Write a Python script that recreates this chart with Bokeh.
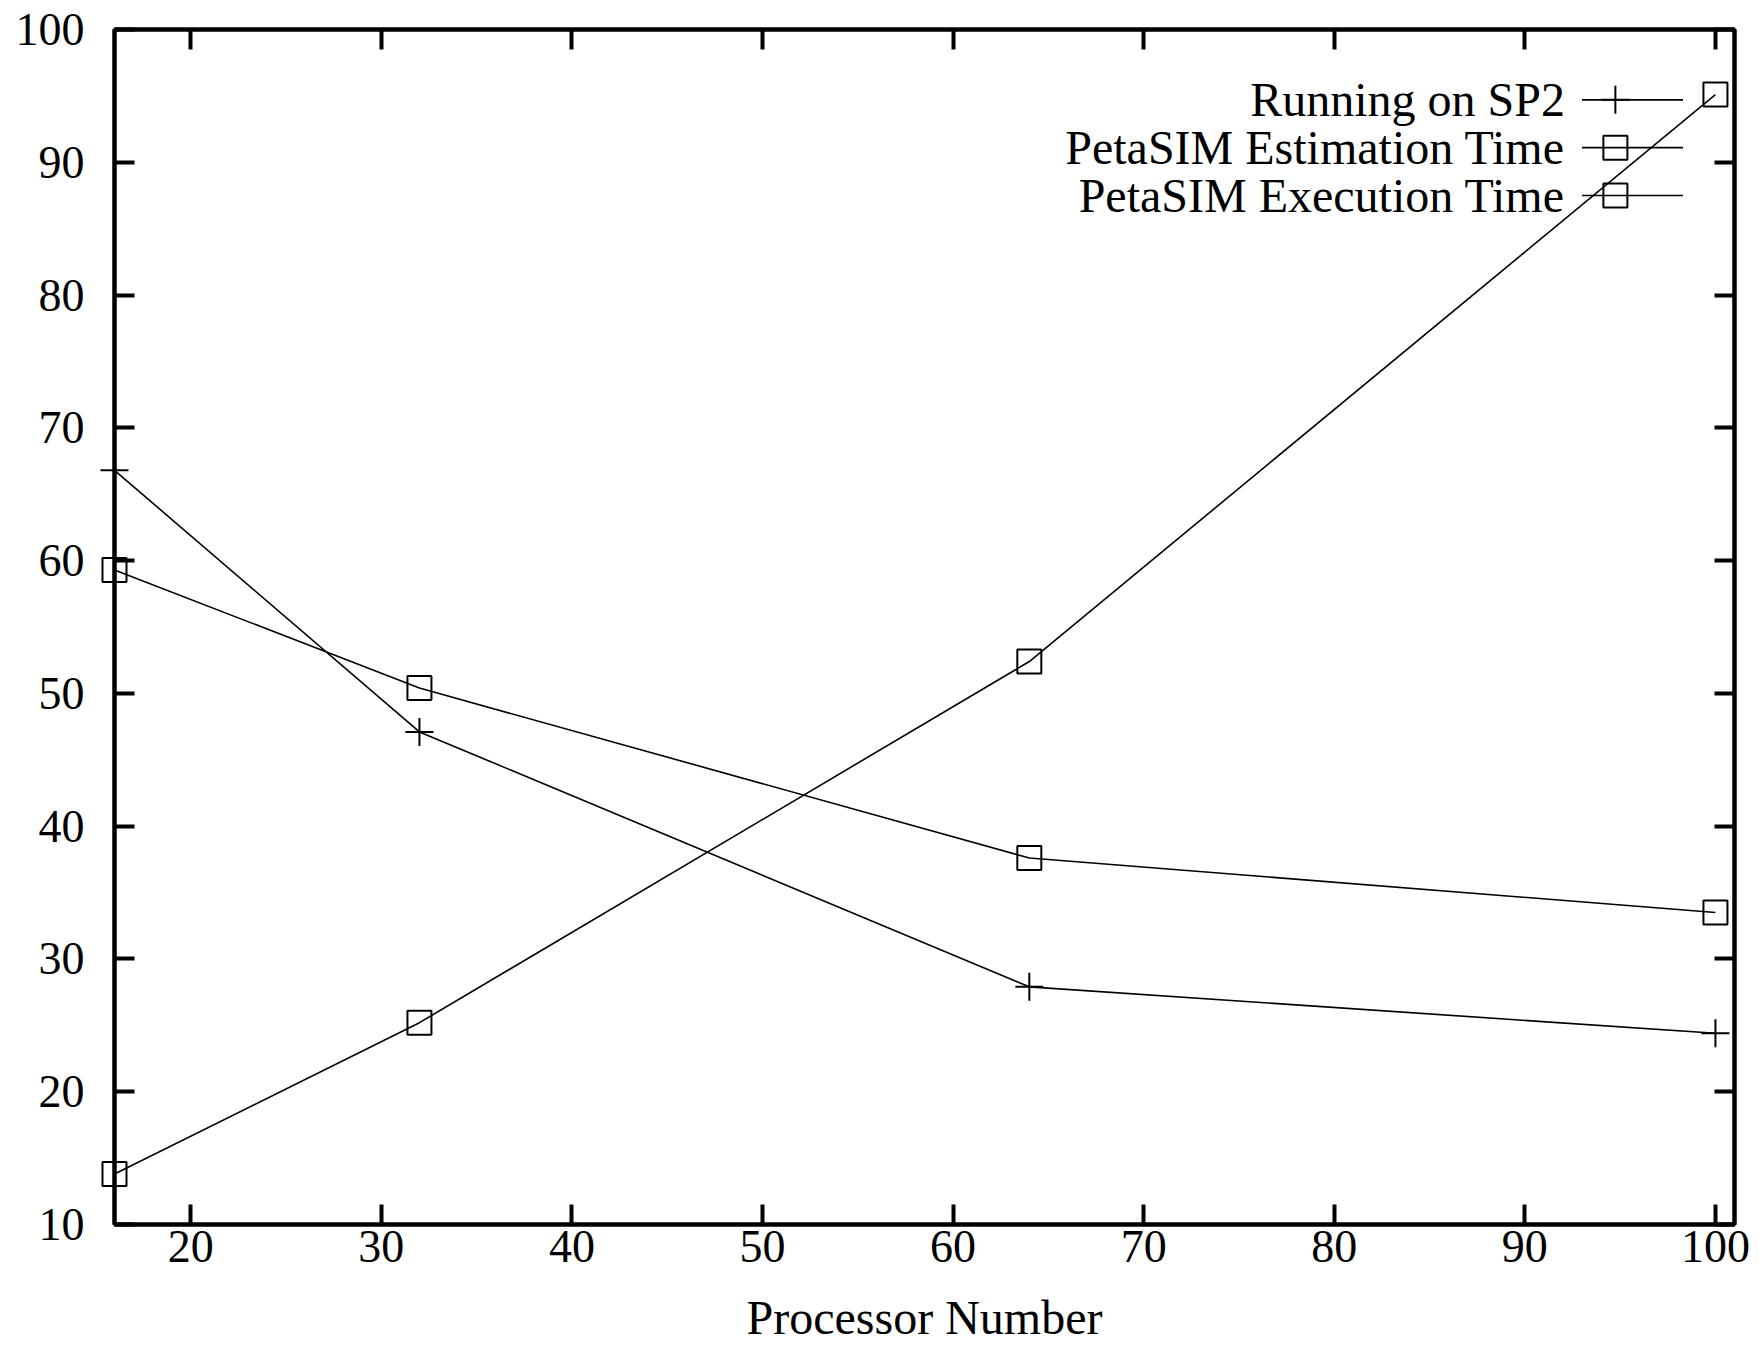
from bokeh.plotting import figure
from bokeh.models import Range1d, LinearAxis, SingleIntervalTicker, Label, CustomJSTickFormatter
from bokeh.embed import file_html
from bokeh.resources import INLINE

# Data
processors = [16, 32, 64, 100]
sp2_running = [66.8, 47.1, 27.9, 24.4]
petasim_estimation = [59.3, 50.4, 37.6, 33.5]
petasim_execution = [13.8, 25.2, 52.4, 95.1]
series_names = ["Running on SP2", "PetaSIM Estimation Time", "PetaSIM Execution Time"]
x_label = "Processor Number"

FONT = "Liberation Serif"
TICK_FS = "46px"
TEXT_FS = "48px"

p = figure(frame_width=1620, frame_height=1195, output_backend="svg", toolbar_location=None,
           x_range=Range1d(16, 101), y_range=Range1d(10, 100),
           min_border_left=114, min_border_right=17, min_border_top=29, min_border_bottom=0)
p.background_fill_color = "white"
p.border_fill_color = "white"
p.outline_line_color = "black"
p.outline_line_width = 4
p.grid.visible = False

def style_axis(ax, labels=True):
    ax.ticker = SingleIntervalTicker(interval=10)
    ax.axis_line_width = 4
    ax.axis_line_color = "black"
    ax.major_tick_in = 20
    ax.major_tick_out = 0
    ax.major_tick_line_width = 4
    ax.major_tick_line_color = "black"
    ax.minor_tick_in = 0
    ax.minor_tick_out = 0
    ax.major_label_text_font = FONT
    ax.major_label_text_font_size = TICK_FS
    ax.major_label_text_color = "black"
    ax.axis_label_text_font = FONT
    ax.axis_label_text_font_size = TEXT_FS
    ax.axis_label_text_font_style = "normal"
    ax.axis_label_text_color = "black"
    if not labels:
        ax.formatter = CustomJSTickFormatter(code="return '';")
        ax.major_label_standoff = 0

style_axis(p.xaxis[0])
style_axis(p.yaxis[0])
p.xaxis[0].major_label_standoff = 6
p.xaxis[0].axis_label = x_label
p.xaxis[0].axis_label_standoff = 26
p.yaxis[0].major_label_standoff = 30

top_ax = LinearAxis()
style_axis(top_ax, labels=False)
p.add_layout(top_ax, "above")
right_ax = LinearAxis()
style_axis(right_ax, labels=False)
p.add_layout(right_ax, "right")

LW = 1.6
MS = 24
p.line(processors, sp2_running, line_color="black", line_width=LW)
p.line(processors, petasim_estimation, line_color="black", line_width=LW)
p.line(processors, petasim_execution, line_color="black", line_width=LW)
r1 = p.scatter(processors, sp2_running, marker="cross", size=28, line_color="black", line_width=2)
r2 = p.scatter(processors, petasim_estimation, marker="square", size=MS, fill_color=None, line_color="black", line_width=2)
r3 = p.scatter(processors, petasim_execution, marker="square", size=MS, fill_color=None, line_color="black", line_width=2)
for r in (r1, r2, r3):
    r.level = "overlay"

# Legend (gnuplot style: text on left, sample on right)
leg_text_x = 92.1
leg_line_x0, leg_line_x1, leg_mark_x = 93.0, 98.3, 94.75
leg_rows = [94.7, 91.1, 87.5]
markers = ["cross", "square", "square"]
for name, yy, mk in zip(series_names, leg_rows, markers):
    p.add_layout(Label(x=leg_text_x, y=yy, text=name, text_font=FONT, text_font_size=TEXT_FS,
                       text_align="right", text_baseline="middle", text_color="black"))
    p.segment(x0=[leg_line_x0], y0=[yy], x1=[leg_line_x1], y1=[yy], line_color="black", line_width=LW)
    if mk == "cross":
        p.scatter([leg_mark_x], [yy], marker="cross", size=28, line_color="black", line_width=2)
    else:
        p.scatter([leg_mark_x], [yy], marker="square", size=MS, fill_color=None, line_color="black", line_width=2)

open("out.html", "w").write(file_html(p, INLINE))
